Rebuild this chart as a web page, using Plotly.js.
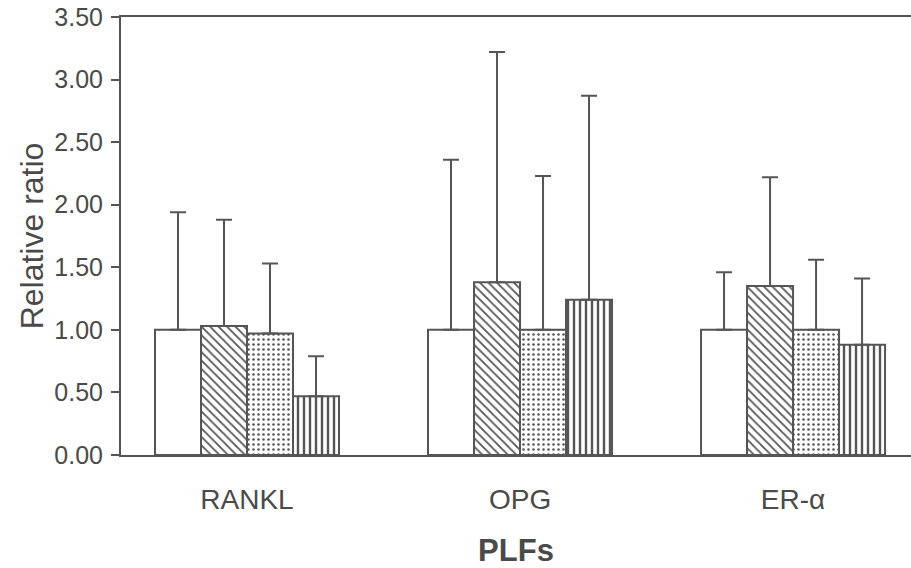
<!DOCTYPE html>
<html>
<head>
<meta charset="utf-8">
<script src="https://cdn.plot.ly/plotly-3.0.1.min.js"></script>
<style>html,body{margin:0;padding:0;background:#fff;}#chart{width:911px;height:568px;}</style>
</head>
<body>
<div id="chart"></div>
<script>
const categories = ["RANKL", "OPG", "ER-α"];
const seriesNames = ["Group 1", "Group 2", "Group 3", "Group 4"];
const means = [
  [1.00, 1.00, 1.00],
  [1.03, 1.38, 1.35],
  [0.97, 1.00, 1.00],
  [0.47, 1.24, 0.88]
];
const upperErr = [
  [1.94, 2.36, 1.46],
  [1.88, 3.22, 2.22],
  [1.53, 2.23, 1.56],
  [0.79, 2.87, 1.41]
];
const yTicks = [0, 0.5, 1, 1.5, 2, 2.5, 3, 3.5];
const yTickText = ["0.00", "0.50", "1.00", "1.50", "2.00", "2.50", "3.00", "3.50"];

const ink = "#555555";
const textInk = "#4a4a4a";
const patterns = ["", "\\", ".", "|"];
const patSize = [6, 6, 5, 6];
const patSolid = [0.3, 0.3, 0.2, 0.4];

const traces = means.map((vals, i) => ({
  type: "bar",
  name: seriesNames[i],
  x: categories,
  y: vals,
  marker: {
    color: "#ffffff",
    line: {color: ink, width: 2},
    pattern: {shape: patterns[i], fgcolor: ink, bgcolor: "#ffffff", size: patSize[i], solidity: patSolid[i]}
  },
  error_y: {
    type: "data",
    symmetric: false,
    array: upperErr[i].map((e, j) => e - vals[j]),
    arrayminus: vals.map(() => 0),
    color: ink,
    thickness: 2,
    width: 8
  },
  showlegend: false
}));

const layout = {
  width: 911,
  height: 568,
  margin: {l: 121, r: 0, t: 17, b: 113},
  paper_bgcolor: "#ffffff",
  plot_bgcolor: "#ffffff",
  barmode: "group",
  bargap: 0.326,
  bargroupgap: 0,
  font: {family: "Liberation Sans, Arial, sans-serif", color: textInk},
  xaxis: {
    type: "category",
    range: [-0.4615, 2.432],
    showline: true,
    linecolor: ink,
    linewidth: 2,
    mirror: true,
    ticks: "",
    showgrid: false,
    zeroline: false,
    tickfont: {size: 28, color: textInk},
    ticklabelstandoff: 18,
    title: {text: "<b>PLFs</b>", font: {size: 31, color: textInk}, standoff: 26}
  },
  yaxis: {
    range: [0, 3.5],
    tickvals: yTicks,
    ticktext: yTickText,
    showline: true,
    linecolor: ink,
    linewidth: 2,
    ticks: "outside",
    ticklen: 8,
    tickwidth: 2,
    tickcolor: ink,
    showgrid: false,
    zeroline: false,
    tickfont: {size: 25, color: textInk},
    ticklabelstandoff: 3,
    title: {text: "Relative ratio", font: {size: 32, color: textInk}, standoff: 1}
  }
};

Plotly.newPlot("chart", traces, layout, {displayModeBar: false, staticPlot: true});
</script>
</body>
</html>
